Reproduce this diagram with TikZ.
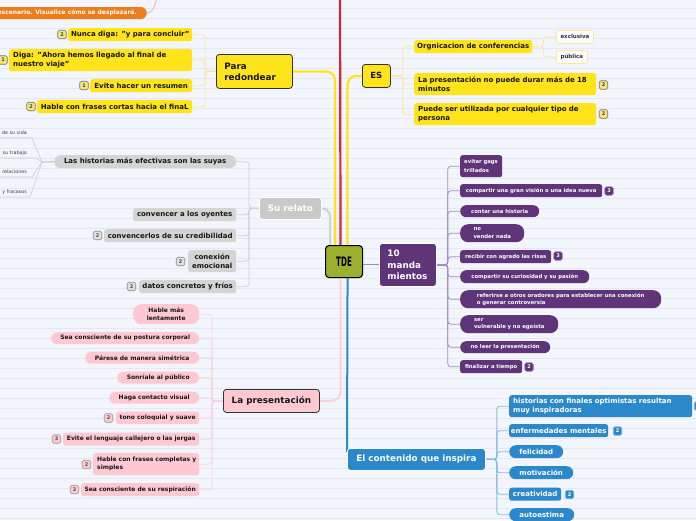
\documentclass[tikz,border=0pt]{standalone}
\usepackage{fontspec}
\setmainfont{DejaVu Sans}
\usepackage{graphicx}
\definecolor{bgc}{HTML}{F3F5FC}
\definecolor{rulec}{HTML}{E5E8F4}
\definecolor{yel}{HTML}{FFE41C}
\definecolor{yline}{HTML}{FBE7A0}
\definecolor{ybadge}{HTML}{F6E57A}
\definecolor{redl}{HTML}{D0283F}
\definecolor{olive}{HTML}{9CAF2E}
\definecolor{grn}{HTML}{C9C9C9}
\definecolor{grc}{HTML}{D4D4D4}
\definecolor{grl}{HTML}{D2D2D2}
\definecolor{pnk}{HTML}{FFC9D3}
\definecolor{pnkl}{HTML}{FCD2DA}
\definecolor{pur}{HTML}{5F3479}
\definecolor{purl}{HTML}{A58CBF}
\definecolor{blu}{HTML}{2B88CA}
\definecolor{blul}{HTML}{86BCE4}
\definecolor{orgc}{HTML}{EE7D1C}
\definecolor{orgl}{HTML}{F6B3A6}
\definecolor{txt}{HTML}{161616}
\definecolor{fanl}{HTML}{CACED9}
\pgfdeclarelayer{back}
\pgfdeclarelayer{conn}
\pgfsetlayers{back,conn,main}
\tikzset{
  nb/.style={inner sep=0pt, anchor=north west},
  f7/.style={font=\fontsize{7}{8.6}\selectfont\bfseries},
  f7ml/.style={font=\fontsize{7}{8.7}\selectfont\bfseries},
  fmain/.style={font=\fontsize{8.8}{11}\selectfont\bfseries},
  ymain/.style={nb, fill=yel, draw=black!80, line width=0.8pt, rounded corners=3pt, text=txt, fmain},
  ychild/.style={nb, fill=yel, rounded corners=2.5pt, text=txt, f7},
  wchild/.style={nb, fill=white!70!bgc, draw=yline, line width=0.8pt, rounded corners=2pt, text=black!80, font=\fontsize{5.5}{5.5}\selectfont\bfseries},
  grmain/.style={nb, fill=grn, draw=white, line width=0.8pt, rounded corners=3pt, text=white, fmain},
  grchild/.style={nb, fill=grc, rounded corners=2.5pt, text=txt, f7},
  pmain/.style={nb, fill=pnk, draw=black!80, line width=0.8pt, rounded corners=3pt, text=txt, fmain},
  pchild/.style={nb, fill=pnk, rounded corners=2.5pt, text=txt, font=\fontsize{6}{8}\selectfont\bfseries},
  ppill/.style={pchild, rounded corners=6pt},
  umain/.style={nb, fill=pur, draw=white, line width=0.8pt, rounded corners=3pt, text=white, fmain},
  uchild/.style={nb, fill=pur, rounded corners=2.5pt, text=white, font=\fontsize{5.3}{7.5}\selectfont\bfseries},
  upill/.style={uchild, rounded corners=6pt},
  bmain/.style={nb, fill=blu, draw=white, line width=0.8pt, rounded corners=3pt, text=white, fmain},
  bchild/.style={nb, fill=blu, rounded corners=2.5pt, text=white, f7},
  bpill/.style={bchild, rounded corners=6.5pt},
  badge/.style={draw, rounded corners=1.5pt, minimum width=8.5pt, minimum height=8.5pt, inner sep=0pt, line width=0.6pt, font=\fontsize{5}{5}\selectfont\bfseries, anchor=center},
  yb/.style={badge, fill=ybadge, draw=black!55, text=black!75},
  gb/.style={badge, fill=black!12, draw=black!45, text=black!70},
  pb/.style={badge, fill=pnk, draw=black!40, text=black!70},
  ub/.style={badge, fill=pur, draw=purl, text=white},
  bb/.style={badge, fill=blu, draw=blul, text=white},
  gtext/.style={inner sep=0pt, anchor=base east, text=black!75, font=\fontsize{4.8}{4.8}\selectfont},
  yconn/.style={draw=yline, line width=0.9pt, rounded corners=3pt},
  grconn/.style={draw=grl, line width=0.9pt, rounded corners=3pt},
  pconn/.style={draw=pnkl, line width=0.9pt, rounded corners=3pt},
  uconn/.style={draw=purl, line width=0.8pt, rounded corners=3pt},
  bconn/.style={draw=blul, line width=0.9pt, rounded corners=3pt},
}
\begin{document}
\begin{tikzpicture}[x=1pt,y=-1pt]
\useasboundingbox (0,0) rectangle (696,520);
\begin{pgfonlayer}{back}
\fill[bgc] (0,0) rectangle (696,520);
\foreach \k in {0,...,51} \draw[rulec, line width=0.7pt] (0,{8+10*\k}) -- (696,{8+10*\k});
\end{pgfonlayer}

% central node
\node[draw=black, line width=1.1pt, fill=olive, rounded corners=3.5pt, minimum width=37, minimum height=32, inner sep=0pt, anchor=north west] (tde) at (325,245) {\scalebox{0.55}[1]{\fontsize{13}{13}\selectfont\bfseries TDE}};

% top orange (partly outside)
\node[font=\fontsize{6}{6}\selectfont\bfseries, fill=orgc, text=white, rounded corners=6pt, minimum height=12, inner xsep=10pt, inner ysep=0pt, anchor=east] (orange) at (147,13) {escenario. Visualice cómo se desplazará.};
\coordinate (otop) at (157,-3);
\coordinate (rtop) at (340,-5);

% Para redondear
\node[ymain, minimum width=76, minimum height=34, text width=60, inner xsep=8, align=left] (para) at (216,54) {Para\\redondear};
\node[ychild, minimum width=124, minimum height=13] (nunca) at (68,28) {Nunca diga: "y para concluir"};
\node[ychild, minimum height=22, text width=175, inner xsep=4, align=left, f7ml] (diga) at (9,49) {\mbox{Diga: "Ahora hemos llegado al final de}\\nuestro viaje"};
\node[ychild, minimum width=102, minimum height=13] (evite) at (90,79) {Evite hacer un resumen};
\node[ychild, minimum width=155, minimum height=13] (hable) at (37,100) {Hable con frases cortas hacia el finaL};
\node[yb] (bnunca) at (62,34.5) {2};
\node[yb] (bdiga) at (3,60) {1};
\node[yb] (bevite) at (84,85.5) {1};
\node[yb] (bhable) at (31,106.5) {2};

% ES
\node[ymain, minimum width=28, minimum height=23, font=\fontsize{8.5}{8.5}\selectfont\bfseries] (es) at (362,64) {ES};
\node[ychild, minimum width=118, minimum height=13] (orgn) at (414,40) {Orgnicacion de conferencias};
\node[wchild, minimum width=37, minimum height=13] (excl) at (556,30) {exclusiva};
\node[wchild, minimum width=31, minimum height=13] (publ) at (556,50) {pública};
\node[ychild, minimum height=22, text width=174, inner xsep=4, align=left, f7ml] (dur) at (414,73) {\mbox{La presentación no puede durar más de 18}\\minutos};
\node[ychild, minimum height=22, text width=174, inner xsep=4, align=left, f7ml] (pue) at (414,103) {\mbox{Puede ser utilizada por cualquier tipo de}\\persona};
\node[yb] (bdur) at (603.5,85) {2};
\node[yb] (bpue) at (603.5,114) {2};

% Su relato
\node[grmain, minimum width=62, minimum height=22] (surelato) at (259,197) {Su relato};
\node[grchild, minimum width=182, minimum height=13, rounded corners=6.5pt] (hist) at (54,155) {Las historias más efectivas son las suyas};
\node[grchild, minimum width=103, minimum height=13] (conv) at (133,208) {convencer a los oyentes};
\node[grchild, minimum width=132, minimum height=13] (cred) at (104,229) {convencerlos de su credibilidad};
\node[grchild, minimum width=48, minimum height=22, align=center, f7ml] (emo) at (188,250) {conexión\\emocional};
\node[grchild, minimum width=97, minimum height=13] (datos) at (139,280) {datos concretos y fríos};
\node[gb] (bcred) at (97.5,235.5) {2};
\node[gb] (bemo) at (180.5,261.5) {2};
\node[gb] (bdatos) at (131.5,286.5) {2};
\node[gtext] (g1) at (27,134) {de su vida};
\node[gtext] (g2) at (27,154) {su trabajo};
\node[gtext] (g3) at (27,173) {relaciones};
\node[gtext] (g4) at (27,193) {y fracasos};
\coordinate (jn) at (42,162);
\coordinate (g1e) at (32,138); \coordinate (g1w) at (-2,138);
\coordinate (g2e) at (36,158); \coordinate (g2w) at (-2,158);
\coordinate (g3e) at (32,177); \coordinate (g3w) at (-2,177);
\coordinate (g4e) at (30,197); \coordinate (g4w) at (-2,197);

% La presentacion
\node[pmain, minimum width=96, minimum height=23] (pres) at (223,389) {La presentación};
\node[ppill, minimum width=66, minimum height=20, align=center, rounded corners=8pt] (p1) at (133,304) {Hable más\\lentamente};
\node[ppill, minimum width=148, minimum height=12] (p2) at (51,332) {Sea consciente de su postura corporal};
\node[ppill, minimum width=114, minimum height=12] (p3) at (85,351.5) {Párese de manera simétrica};
\node[ppill, minimum width=82, minimum height=12] (p4) at (117,371.5) {Sonríale al público};
\node[ppill, minimum width=90, minimum height=12] (p5) at (109,391.5) {Haga contacto visual};
\node[pchild, minimum width=83, minimum height=12.5] (p6) at (116,411.5) {tono coloquial y suave};
\node[pchild, minimum width=136, minimum height=13] (p7) at (63,432.5) {Evite el lenguaje callejero o las jergas};
\node[pchild, minimum height=22, text width=98, inner xsep=4, align=left] (p8) at (93,453) {\mbox{Hable con frases completas y}\\simples};
\node[pchild, minimum width=118, minimum height=13] (p9) at (81,483) {Sea consciente de su respiración};
\node[pb] (bp6) at (108.5,418) {2};
\node[pb] (bp7) at (56.5,439) {3};
\node[pb] (bp8) at (86.5,464.5) {2};
\node[pb] (bp9) at (74.5,489.5) {2};

% 10 mandamientos
\node[umain, minimum height=43, text width=41, inner xsep=8, align=left, font=\fontsize{8.8}{11.5}\selectfont\bfseries] (mand) at (379,243) {10\\manda\\mientos};
\node[uchild, minimum height=22, text width=34, inner xsep=4, align=left, font=\fontsize{5.3}{9}\selectfont\bfseries] (m1) at (460,155) {\mbox{evitar gags}\\trillados};
\node[uchild, minimum width=142, minimum height=13] (m2) at (460,184) {compartir una gran visión o una idea nueva};
\node[upill, minimum width=79, minimum height=12] (m3) at (460,205) {contar una historia};
\node[upill, minimum width=64, minimum height=18, align=left, rounded corners=8pt] (m4) at (460,224) {no\\vender nada};
\node[uchild, minimum width=91, minimum height=13] (m5) at (460,250) {recibir con agrado las risas};
\node[upill, minimum width=129, minimum height=13] (m6) at (460,270) {compartir su curiosidad y su pasión};
\node[upill, minimum width=201, minimum height=18, align=left, rounded corners=8pt] (m7) at (460,290) {referirse a otros oradores para establecer una conexión\\o generar controversia};
\node[upill, minimum width=98, minimum height=18, align=left, rounded corners=8pt] (m8) at (460,315) {ser\\vulnerable y no egoísta};
\node[upill, minimum width=90, minimum height=12] (m9) at (460,341) {no leer la presentación};
\node[uchild, minimum width=62, minimum height=13] (m10) at (460,360) {finalizar a tiempo};
\node[ub] (bm2) at (609,191) {3};
\node[ub] (bm5) at (558,256) {3};
\node[ub] (bm10) at (529,367) {2};

% El contenido que inspira
\node[bmain, minimum width=138, minimum height=22] (cont) at (347,448) {El contenido que inspira};
\node[bchild, minimum height=22, text width=175, inner xsep=4, align=left, f7ml] (b1) at (509,395) {\mbox{historias con finales optimistas resultan}\\muy inspiradoras};
\node[bchild, minimum width=99, minimum height=13] (b2) at (509,424) {enfermedades mentales};
\node[bpill, minimum width=54, minimum height=13] (b3) at (509,445) {felicidad};
\node[bpill, minimum width=64, minimum height=13] (b4) at (509,466) {motivación};
\node[bchild, minimum width=52, minimum height=13] (b5) at (509,487.5) {creatividad};
\node[bpill, minimum width=65, minimum height=13] (b6) at (509,508) {autoestima};
\node[bb] (bb1) at (698.5,406) {};
\node[bb] (bb2) at (617.5,431) {2};
\node[bb] (bb5) at (569.5,494.5) {2};

\begin{pgfonlayer}{conn}
% main branches
\draw[redl, line width=2.2pt] ([xshift=-3.5pt]tde.north) -- (rtop);
\draw[yel, line width=2.2pt, rounded corners=9pt] ([xshift=-9pt]tde.north) |- (para.east);
\draw[yel, line width=2.2pt, rounded corners=9pt] ([xshift=3.5pt]tde.north) |- (es.west);
\draw[grl, line width=2pt, rounded corners=8pt] ([xshift=-14pt]tde.north) |- (surelato.east);
\draw[pnkl, line width=2pt, rounded corners=9pt] ([xshift=-3.5pt]tde.south) |- (pres.east);
\draw[blu, line width=2pt] ([xshift=3.5pt]tde.south) -- ([yshift=-4pt]cont.north west);
\draw[purl, line width=1pt] (tde.east |- mand.west) -- (mand.west);
\draw[orgl, line width=0.8pt] (orange.east) .. controls (153,13) and (155,6) .. (otop);
% children
\foreach \nn in {nunca,diga,evite,hable} \draw[yconn] (para.west) -- ([xshift=-11pt]para.west) |- (\nn.east);
\foreach \nn in {orgn,dur,pue} \draw[yconn] (es.east) -- ([xshift=12pt]es.east) |- (\nn.west);
\foreach \nn in {excl,publ} \draw[yconn] (orgn.east) -- ([xshift=11pt]orgn.east) |- (\nn.west);
\foreach \nn in {hist,conv,cred,emo,datos} \draw[grconn] (surelato.west) -- ([xshift=-10pt]surelato.west) |- (\nn.east);
\foreach \i in {1,2,3,4} \draw[draw=fanl, line width=0.6pt] (hist.west) -- (jn) -- (g\i e) -- (g\i w);
\foreach \nn in {p1,p2,p3,p4,p5,p6,p7,p8,p9} \draw[pconn] (pres.west) -- ([xshift=-11pt]pres.west) |- (\nn.east);
\foreach \nn in {m1,m2,m3,m4,m5,m6,m7,m8,m9,m10} \draw[uconn] (mand.east) -- ([xshift=11pt]mand.east) |- (\nn.west);
\foreach \nn in {b1,b2,b3,b4,b5,b6} \draw[bconn] (cont.east) -- ([xshift=11pt]cont.east) |- (\nn.west);
\end{pgfonlayer}
\end{tikzpicture}
\end{document}
